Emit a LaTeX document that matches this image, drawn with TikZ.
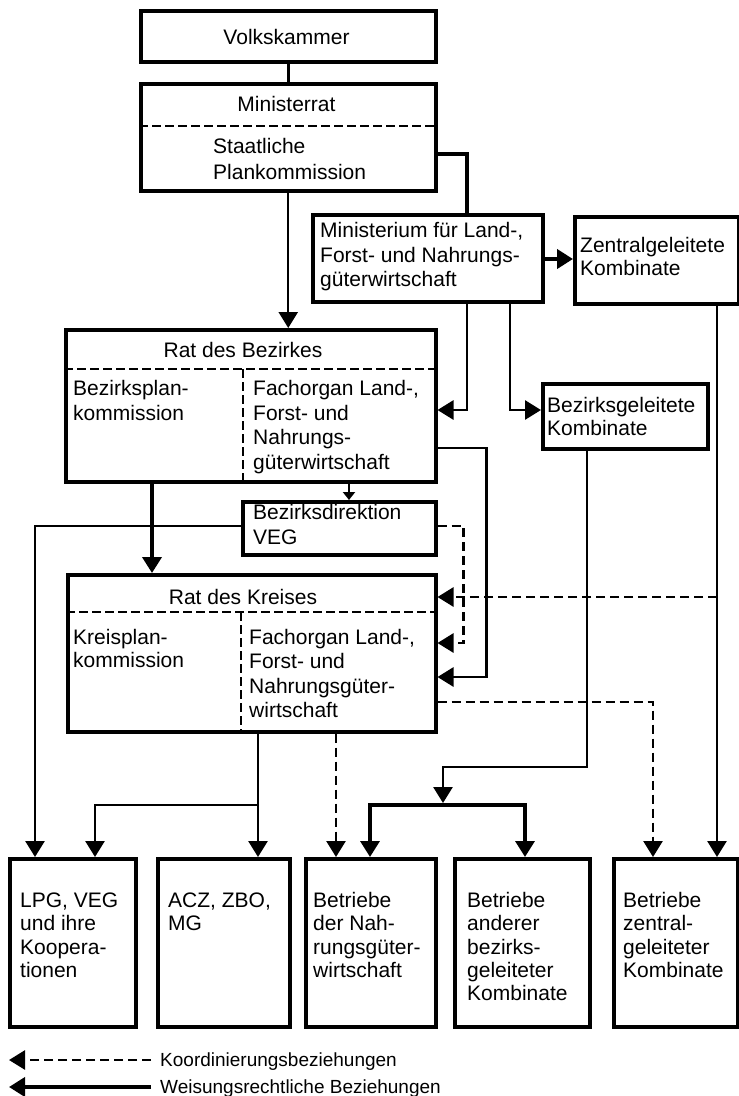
\documentclass[tikz,border=0pt]{standalone}
\usepackage{fontspec}
\setmainfont{Liberation Sans}
\usetikzlibrary{arrows.meta,calc}
\begin{document}
\begin{tikzpicture}[x=1pt,y=-1pt,
  box/.style={draw, line width=3.5pt, rectangle, inner sep=0pt, anchor=north west},
  txt/.style={anchor=base west, inner sep=0pt, align=left, font=\fontsize{21}{24.5}\selectfont},
  txtb/.style={anchor=base west, inner sep=0pt, align=left, font=\fontsize{21}{23.3}\selectfont},
  ttl/.style={anchor=base, inner sep=0pt, font=\fontsize{21}{24.5}\selectfont},
  leg/.style={anchor=base west, inner sep=0pt, font=\fontsize{19}{22}\selectfont},
  sep/.style={line width=2.4pt, dash pattern=on 9pt off 4pt},
  plain/.style={line width=2.8pt},
  wei/.style={line width=2.8pt, -{Triangle[width=19pt,length=16pt]}},
  koo/.style={line width=2.7pt, dash pattern=on 9pt off 5pt, -{Triangle[width=19pt,length=16pt]}}
]
\useasboundingbox (0,0) rectangle (739,1096);

% ---------- boxes ----------
\node[box, minimum width=295pt, minimum height=51pt] (vk) at (139,9) {};
\node[ttl] (vkt) at (286.5,44) {Volkskammer};

\node[box, minimum width=295pt, minimum height=107pt] (mr) at (139,82) {};
\node[ttl] (mrt) at (286.5,111.5) {Ministerrat};
\draw[sep] (mr.west |- 0,126) -- (mr.east |- 0,126);
\node[txt, font=\fontsize{21}{26}\selectfont] (spk) at (213,179.5) {Staatliche\\Plankommission};

\node[box, minimum width=230pt, minimum height=87pt] (min) at (311,213) {};
\node[txt] (mint) at (320,286.5) {Ministerium für Land-,\\Forst- und Nahrungs-\\güterwirtschaft};

\node[box, minimum width=164pt, minimum height=87pt] (zk) at (573,215) {};
\node[txt, font=\fontsize{21}{23}\selectfont] (zkt) at (580,275.5) {Zentralgeleitete\\Kombinate};

\node[box, minimum width=370pt, minimum height=152pt] (rb) at (64,328) {};
\node[ttl] (rbt) at (243,357.5) {Rat des Bezirkes};
\draw[sep] (rb.west |- 0,369) -- (rb.east |- 0,369);
\draw[sep] (243,369) -- (rb.south -| 243,0);
\node[txt] (bpk) at (73,420) {Bezirksplan-\\kommission};
\node[txt] (fob) at (253,469) {Fachorgan Land-,\\Forst- und\\Nahrungs-\\güterwirtschaft};

\node[box, minimum width=165pt, minimum height=65pt] (bg) at (541,382) {};
\node[txt, font=\fontsize{21}{23}\selectfont] (bgt) at (547,435.5) {Bezirksgeleitete\\Kombinate};

\node[box, minimum width=193pt, minimum height=53pt] (bd) at (241,500) {};
\node[txt] (bdt) at (253,544) {Bezirksdirektion\\VEG};

\node[box, minimum width=368pt, minimum height=157pt] (rk) at (66,573) {};
\node[ttl] (rkt) at (243,604.5) {Rat des Kreises};
\draw[sep] (rk.west |- 0,612) -- (rk.east |- 0,612);
\draw[sep] (241,612) -- (rk.south -| 241,0);
\node[txt, font=\fontsize{21}{23}\selectfont] (kpk) at (73,667.5) {Kreisplan-\\kommission};
\node[txt, font=\fontsize{21}{24.3}\selectfont] (fok) at (249,717.4) {Fachorgan Land-,\\Forst- und\\Nahrungsgüter-\\wirtschaft};

\node[box, minimum width=126pt, minimum height=168pt] (b1) at (8,857) {};
\node[txtb] (b1t) at (20,977.4) {LPG, VEG\\und ihre\\Koopera-\\tionen};
\node[box, minimum width=132pt, minimum height=168pt] (b2) at (156,857) {};
\node[txtb] (b2t) at (168,930.8) {ACZ, ZBO,\\MG};
\node[box, minimum width=130pt, minimum height=168pt] (b3) at (304,857) {};
\node[txtb] (b3t) at (313,977.4) {Betriebe\\der Nah-\\rungsgüter-\\wirtschaft};
\node[box, minimum width=135pt, minimum height=168pt] (b4) at (453,857) {};
\node[txtb] (b4t) at (467,1000.7) {Betriebe\\anderer\\bezirks-\\geleiteter\\Kombinate};
\node[box, minimum width=124pt, minimum height=168pt] (b5) at (612,857) {};
\node[txtb] (b5t) at (623,977.4) {Betriebe\\zentral-\\geleiteter\\Kombinate};

% ---------- connectors ----------
\draw[plain] (vk.south) -- (mr.north);
\draw[wei, line width=2.4pt] (mr.south) -- (rb.north -| mr.south);
\draw[plain, line width=3.6pt] (mr.east |- 0,154) -| (min.north -| 467,0);
\draw[wei, line width=4pt] (min.east |- 0,259) -- (zk.west |- 0,259);
\draw[wei] (min.south -| 467,0) |- (rb.east |- 0,410);
\draw[wei] (min.south -| 510,0) |- (bg.west |- 0,410);
\draw[wei] (rb.east |- 0,448) -- ++(49,0) |- (rk.east |- 0,677);
\draw[line width=2.2pt, -{Triangle[width=12pt,length=8pt]}] (rb.south -| 349,0) -- (bd.north -| 349,0);
\draw[wei, line width=3.8pt] (rb.south -| 152,0) -- (rk.north -| 152,0);
\draw[wei] (bd.west |- 0,526) -| (b1.north -| 35,0);
\draw[koo] (bd.east |- 0,526) -- ++(26,0) |- (rk.east |- 0,643);
\draw[wei] (zk.south -| 717,0) -- (b5.north -| 717,0);
\coordinate (zj) at (717,597);
\draw[koo] (zj) -- (rk.east |- zj);
\draw[koo] (rk.east |- 0,702) -| (b5.north -| 653,0);
\coordinate (bj) at (443,803);
\draw[wei] (bg.south -| 587,0) |- (443,767) -- (bj);
\draw[line width=3.4pt, {Triangle[width=19pt,length=16pt]}-{Triangle[width=19pt,length=16pt]}]
  (b3.north -| 370,0) -- (370,805) -- (525,805) -- (b4.north -| 525,0);
\coordinate (rj) at (258,805);
\draw[wei] (rk.south -| 258,0) -- (b2.north -| 258,0);
\draw[wei] (rj) -| (b1.north -| 95,0);
\draw[koo] (rk.south -| 336,0) -- (b3.north -| 336,0);

% ---------- legend ----------
\coordinate (lks) at (151,1060);
\coordinate (lke) at (9,1060);
\draw[koo] (lks) -- (lke);
\node[leg] (lk) at (160,1066.5) {Koordinierungsbeziehungen};
\coordinate (lws) at (151,1087);
\coordinate (lwe) at (9,1087);
\draw[wei, line width=3.8pt] (lws) -- (lwe);
\node[leg] (lw) at (160,1093) {Weisungsrechtliche Beziehungen};
\end{tikzpicture}
\end{document}
